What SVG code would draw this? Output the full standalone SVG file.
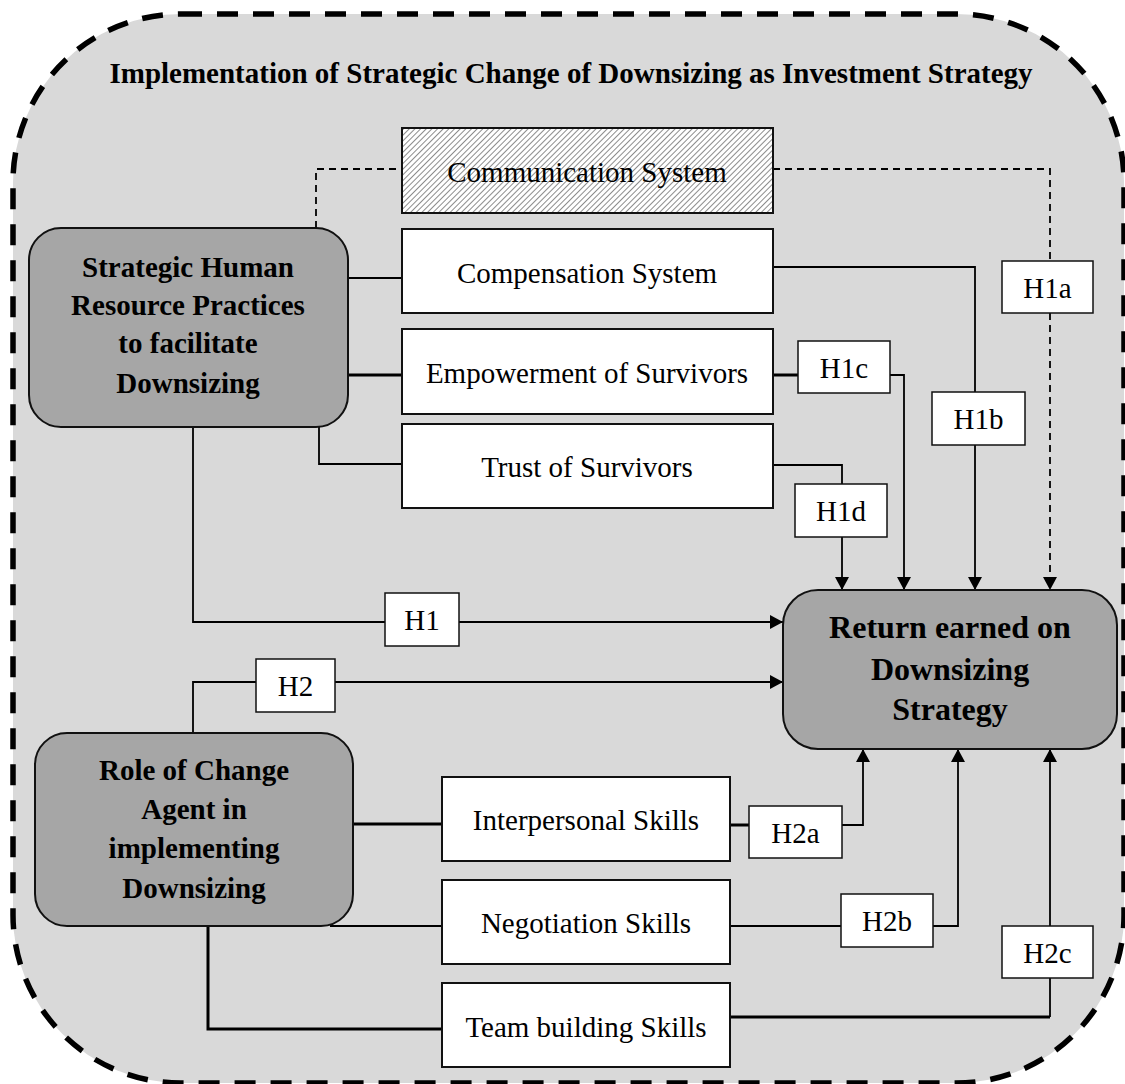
<svg xmlns="http://www.w3.org/2000/svg" width="1125" height="1084" viewBox="0 0 1125 1084">
<style>
.box{fill:#fff;stroke:#111;stroke-width:2}
.big{fill:#a6a6a6;stroke:#111;stroke-width:2}
.t{font-family:"Liberation Serif","Times New Roman",serif;font-size:29px;fill:#000;text-anchor:middle}
.b{font-weight:bold}
.c{fill:none;stroke:#000;stroke-width:1.8}
.k{stroke-width:3}
.d{stroke-dasharray:7 5}
</style>
<defs>
<marker id="arr" markerWidth="14" markerHeight="14" refX="13" refY="7" orient="auto" markerUnits="userSpaceOnUse">
<path d="M0,0 L13,7 L0,14 z" fill="#000"/>
</marker>
<pattern id="hatch" patternUnits="userSpaceOnUse" width="4" height="4" patternTransform="rotate(45)">
<rect width="4" height="4" fill="#fff"/>
<line x1="0" y1="0" x2="0" y2="4" stroke="#6e6e6e" stroke-width="1.6"/>
</pattern>
</defs>
<rect id="frame" x="13" y="14" width="1111" height="1069" rx="168" ry="168" fill="#d9d9d9" stroke="#000" stroke-width="5.5" stroke-dasharray="21 15"/>
<text class="t b" x="571" y="83">Implementation of Strategic Change of Downsizing as Investment Strategy</text>
<g id="connectors">
<path class="c d" d="M316,228 V169 H402"/>
<path class="c d" d="M773,169 H1050 V261"/>
<path class="c d" d="M1050,313 V590" marker-end="url(#arr)"/>
<path class="c" d="M348,278 H402"/>
<path class="c" d="M773,267 H975 V392"/>
<path class="c" d="M975,445 V590" marker-end="url(#arr)"/>
<path class="c k" d="M348,375 H402"/>
<path class="c k" d="M773,375 H798"/>
<path class="c" d="M890,375 H904 V590" marker-end="url(#arr)"/>
<path class="c" d="M319,427 V464 H402"/>
<path class="c" d="M773,465 H842 V484"/>
<path class="c" d="M842,537 V590" marker-end="url(#arr)"/>
<path class="c" d="M193,427 V622 H385"/>
<path class="c" d="M459,622 H783" marker-end="url(#arr)"/>
<path class="c" d="M193,733 V682 H256"/>
<path class="c" d="M335,682 H783" marker-end="url(#arr)"/>
<path class="c k" d="M353,824 H442"/>
<path class="c k" d="M730,825 H749"/>
<path class="c" d="M842,825 H863 V749" marker-end="url(#arr)"/>
<path class="c" d="M330,926 H442"/>
<path class="c" d="M730,926 H841"/>
<path class="c" d="M933,926 H958 V749" marker-end="url(#arr)"/>
<path class="c k" d="M208,926 V1029 H442"/>
<path class="c k" d="M730,1017 H1050"/>
<path class="c" d="M1050,1017 V978"/>
<path class="c" d="M1050,926 V749" marker-end="url(#arr)"/>
</g>
<g id="shrm">
<rect class="big" x="29" y="228" width="319" height="199" rx="32"/>
<text class="t b" x="188" y="277">Strategic Human</text>
<text class="t b" x="188" y="315">Resource Practices</text>
<text class="t b" x="188" y="353">to facilitate</text>
<text class="t b" x="188" y="393">Downsizing</text>
</g>
<g id="role">
<rect class="big" x="35" y="733" width="318" height="193" rx="32"/>
<text class="t b" x="194" y="780">Role of Change</text>
<text class="t b" x="194" y="819">Agent in</text>
<text class="t b" x="194" y="858">implementing</text>
<text class="t b" x="194" y="898">Downsizing</text>
</g>
<g id="return">
<rect class="big" x="783" y="590" width="334" height="159" rx="35"/>
<text class="t b" x="950" y="638" style="font-size:32px">Return earned on</text>
<text class="t b" x="950" y="680" style="font-size:32px">Downsizing</text>
<text class="t b" x="950" y="720" style="font-size:32px">Strategy</text>
</g>
<g id="communication">
<rect x="402" y="128" width="371" height="85" fill="url(#hatch)" stroke="#111" stroke-width="2"/>
<text class="t" x="587" y="182">Communication System</text>
</g>
<g id="compensation">
<rect class="box" x="402" y="229" width="371" height="84"/>
<text class="t" x="587" y="283">Compensation System</text>
</g>
<g id="empowerment">
<rect class="box" x="402" y="329" width="371" height="85"/>
<text class="t" x="587" y="383">Empowerment of Survivors</text>
</g>
<g id="trust">
<rect class="box" x="402" y="424" width="371" height="84"/>
<text class="t" x="587" y="477">Trust of Survivors</text>
</g>
<g id="interpersonal">
<rect class="box" x="442" y="777" width="288" height="84"/>
<text class="t" x="586" y="830">Interpersonal Skills</text>
</g>
<g id="negotiation">
<rect class="box" x="442" y="880" width="288" height="84"/>
<text class="t" x="586" y="933">Negotiation Skills</text>
</g>
<g id="teambuilding">
<rect class="box" x="442" y="983" width="288" height="84"/>
<text class="t" x="586" y="1037">Team building Skills</text>
</g>
<g id="h1a"><rect class="box" x="1002" y="261" width="91" height="52" style="stroke-width:1.5"/><text class="t" x="1047.5" y="298">H1a</text></g>
<g id="h1b"><rect class="box" x="932" y="392" width="93" height="53" style="stroke-width:1.5"/><text class="t" x="978.5" y="429">H1b</text></g>
<g id="h1c"><rect class="box" x="798" y="341" width="92" height="52" style="stroke-width:1.5"/><text class="t" x="844" y="378">H1c</text></g>
<g id="h1d"><rect class="box" x="795" y="484" width="92" height="53" style="stroke-width:1.5"/><text class="t" x="841" y="521">H1d</text></g>
<g id="h1"><rect class="box" x="385" y="593" width="74" height="53" style="stroke-width:1.5"/><text class="t" x="422" y="630">H1</text></g>
<g id="h2"><rect class="box" x="256" y="659" width="79" height="53" style="stroke-width:1.5"/><text class="t" x="295.5" y="696">H2</text></g>
<g id="h2a"><rect class="box" x="749" y="806" width="93" height="52" style="stroke-width:1.5"/><text class="t" x="795.5" y="843">H2a</text></g>
<g id="h2b"><rect class="box" x="841" y="894" width="92" height="53" style="stroke-width:1.5"/><text class="t" x="887" y="931">H2b</text></g>
<g id="h2c"><rect class="box" x="1002" y="926" width="91" height="52" style="stroke-width:1.5"/><text class="t" x="1047.5" y="963">H2c</text></g>
</svg>
